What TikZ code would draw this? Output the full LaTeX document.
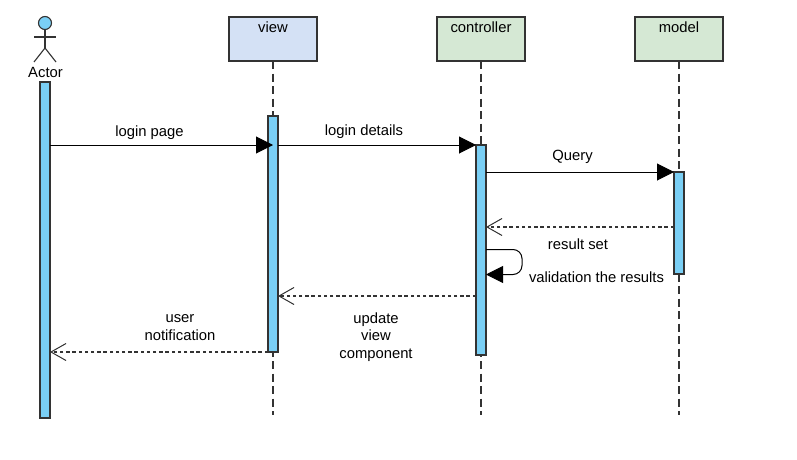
\documentclass[tikz,border=0pt]{standalone}
\usepackage{fontspec}
\setmainfont{Liberation Sans}
\usetikzlibrary{arrows.meta}
\definecolor{ink}{HTML}{333333}
\definecolor{barblue}{HTML}{7ACFF5}
\definecolor{viewblue}{HTML}{D4E1F5}
\definecolor{boxgreen}{HTML}{D5E8D4}
\tikzset{
  x=1pt,y=-1pt,
  every node/.style={font=\fontsize{14.8}{17.3}\selectfont,text=black},
  headbox/.style={draw=ink,line width=1.6pt,minimum width=88pt,minimum height=44pt,inner sep=0pt,outer sep=0pt},
  boxtitle/.style={anchor=center,yshift=-10pt,inner sep=0pt},
  lifeline/.style={draw=ink,line width=1.3pt,dash pattern=on 8pt off 4.5pt},
  bar/.style={draw=ink,fill=barblue,line width=1.3pt,minimum width=10pt,inner sep=0pt,outer sep=0pt},
  call/.style={draw=black,line width=1pt,-{Triangle[length=17pt,width=17pt,fill=black]}},
  reply/.style={draw=ink,line width=1.2pt,dash pattern=on 3.5pt off 2.7pt,-{Straight Barb[length=15pt,width=17pt,line width=1pt,color=ink,sep=0pt]}},
  stick/.style={draw=ink,line width=1.1pt},
  msg/.style={align=center,inner sep=0pt}
}
\begin{document}
\begin{tikzpicture}
\useasboundingbox (0,0) rectangle (797,460);
\fill[white] (0,0) rectangle (797,460);
% head boxes
\node[headbox,fill=viewblue,label={[boxtitle]north:view}] (viewbox) at (273,39) {};
\node[headbox,fill=boxgreen,label={[boxtitle]north:controller}] (ctrlbox) at (481,39) {};
\node[headbox,fill=boxgreen,label={[boxtitle]north:model}] (modelbox) at (679,39) {};
% lifelines
\coordinate (viewend) at (273,415);
\coordinate (ctrlend) at (481,415);
\coordinate (modelend) at (679,415);
\draw[lifeline] (viewbox.south) -- (viewend);
\draw[lifeline] (ctrlbox.south) -- (ctrlend);
\draw[lifeline] (modelbox.south) -- (modelend);
% actor
\node[circle,draw=ink,fill=barblue,line width=1.1pt,minimum size=13pt,inner sep=0pt,outer sep=0pt] (head) at (45,23) {};
\coordinate (hip) at (45,48);
\coordinate (larm) at (34,37);
\coordinate (rarm) at (56,37);
\coordinate (lleg) at (34,62);
\coordinate (rleg) at (56,62);
\draw[stick] (head.south) -- (hip);
\draw[stick] (larm) -- (rarm);
\draw[stick] (lleg) -- (hip) -- (rleg);
\node[inner sep=0pt] (actorlabel) at (45.5,72) {Actor};
% activation bars
\node[bar,minimum height=336pt] (actorbar) at (45,250) {};
\node[bar,minimum height=236pt] (viewbar) at (273,234) {};
\node[bar,minimum height=210pt] (ctrlbar) at (481,250) {};
\node[bar,minimum height=102pt] (modelbar) at (679,223) {};
% messages
\draw[call] (actorbar.east |- 0,145) -- (viewbar.center |- 0,145);
\node[msg] (m1) at (149.5,133) {login page};
\draw[call] (viewbar.east |- 0,145) -- (ctrlbar.west |- 0,145);
\node[msg] (m2) at (364,132) {login details};
\draw[call] (ctrlbar.east |- 0,172) -- (modelbar.west |- 0,172);
\node[msg] (m3) at (572.5,156.5) {Query};
\draw[reply] (modelbar.west |- 0,227) -- (ctrlbar.east |- 0,227);
\node[msg] (m4) at (578,244) {result set};
\coordinate (loop) at (522,262);
\draw[call,rounded corners=9pt] (ctrlbar.east |- 0,249.5) -- (loop |- 0,249.5) -- (loop |- 0,274.5) -- (ctrlbar.east |- 0,274.5);
\node[msg] (m5) at (596.5,277) {validation the results};
\draw[reply] (ctrlbar.west |- 0,296) -- (viewbar.east |- 0,296);
\node[msg] (m6) at (376,337) {update\\view\\component};
\draw[reply] (viewbar.west |- 0,352) -- (actorbar.east |- 0,352);
\node[msg] (m7) at (180,327.5) {user\\notification};
\end{tikzpicture}
\end{document}
